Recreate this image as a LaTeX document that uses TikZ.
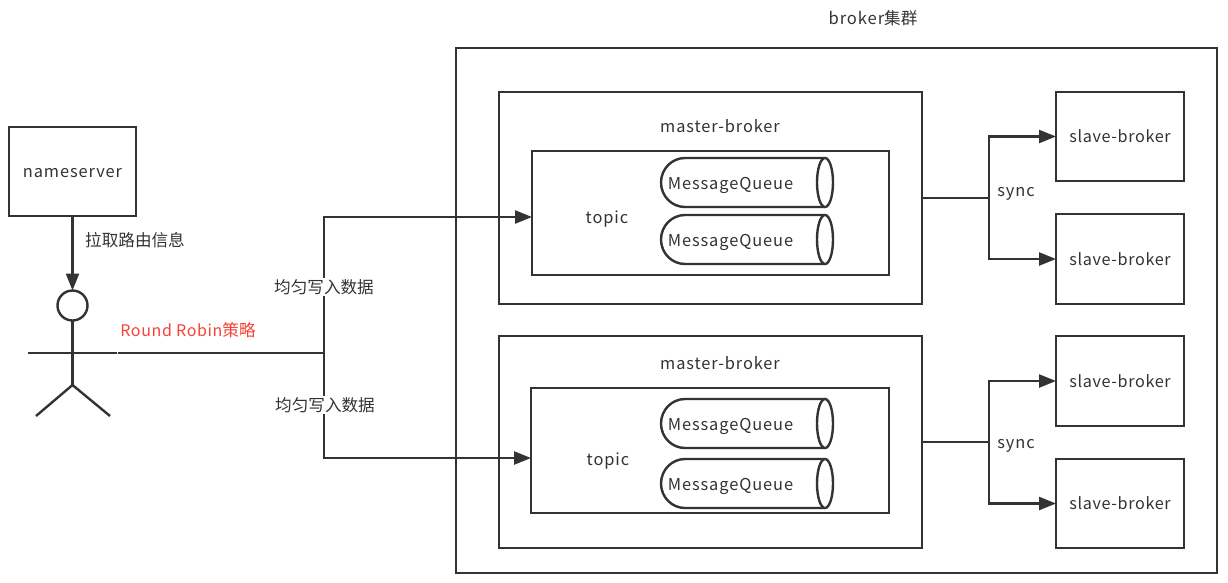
\documentclass[tikz,border=0pt]{standalone}
\usepackage{fontspec}
\setmainfont{Noto Sans CJK SC}
\newfontfamily\spaced[LetterSpace=5.5]{Noto Sans CJK SC}
\newfontfamily\spacedtight[LetterSpace=4]{Noto Sans CJK SC}
\usetikzlibrary{arrows.meta,calc}
\definecolor{ink}{HTML}{333333}
\definecolor{rrred}{HTML}{F44336}
\tikzset{
  x=1pt,y=-1pt,
  every node/.style={font=\fontsize{16.6}{18}\selectfont,text=ink},
  box/.style={draw=ink,line width=2.6pt,inner sep=0pt,outer sep=0pt,fill=white,font=\fontsize{16.4}{18}\spaced},
  lbl/.style={inner sep=1pt,font=\fontsize{16.4}{18}\spaced},
  cjk/.style={inner sep=1pt},
  mask/.style={inner sep=1pt,fill=white},
  link/.style={draw=ink,line width=2.4pt},
  arrowlink/.style={link,-{Triangle[length=17pt,width=13pt]}},
  stick/.style={draw=ink,line width=2.4pt},
  qline/.style={draw=ink,line width=2.4pt,fill=white},
}
\newcommand{\boxat}[6]{\node[box,minimum width=#4 pt-#2 pt,minimum height=#5 pt-#3 pt,anchor=north west] (#1) at (#2,#3) {#6};}
\newcommand{\queue}[2]{%
  \draw[qline] (685,#2-24.5) -- (825,#2-24.5)
     arc[start angle=270,end angle=450,x radius=8,y radius=24.5]
     -- (685,#2+24.5)
     arc[start angle=90,end angle=270,x radius=24,y radius=24.5] -- cycle;
  \draw[qline] (825,#2-24.5) arc[start angle=270,end angle=90,x radius=8,y radius=24.5];
  \node[lbl] (#1) at (730.5,#2+3) {MessageQueue};
}
\newcommand{\slavetext}{\raisebox{-6pt}[0pt][0pt]{\fontsize{16.2}{18}\spacedtight slave-broker}}
\begin{document}
\begin{tikzpicture}
\useasboundingbox (0,0) rectangle (1228,582);
\node[cjk] (title) at (873,18) {{\spaced broker}集群};
\boxat{outer}{456}{48}{1217}{573}{}
\boxat{ns}{9}{127}{136}{216}{\raisebox{-5.5pt}[0pt][0pt]{nameserver}}
\boxat{m1}{499}{92}{922}{304}{}
\boxat{t1}{532}{151}{889}{275}{}
\boxat{m2}{499}{336}{922}{548}{}
\boxat{t2}{531}{388}{889}{513}{}
\boxat{s1}{1056}{92}{1184}{181}{\slavetext}
\boxat{s2}{1056}{214}{1184}{304}{\slavetext}
\boxat{s3}{1056}{336}{1184}{426}{\slavetext}
\boxat{s4}{1056}{459}{1184}{548}{\slavetext}
\node[lbl] (m1l) at (720,126) {master-broker};
\node[lbl] (m2l) at (720,363) {master-broker};
\node[lbl] (t1l) at (607,219) {topic};
\node[lbl] (t2l) at (608,461) {topic};
\queue{q1}{182.5}
\queue{q2}{239.5}
\queue{q3}{423.5}
\queue{q4}{483.5}
% actor
\node[draw=ink,line width=2.4pt,circle,minimum size=30pt,inner sep=0pt,outer sep=0pt] (head) at (72.5,305.5) {};
\coordinate (hip) at (72.5,385);
\coordinate (armL) at (28,353);
\coordinate (armR) at (117,353);
\coordinate (legL) at (36,416);
\coordinate (legR) at (110,416);
\draw[stick] (head.south) -- (hip);
\draw[stick] (armL) -- (armR);
\draw[stick] (legL) -- (hip) -- (legR);
% connectors
\coordinate (start) at (118,353);
\coordinate (junc) at (324,353);
\coordinate (s1j) at (989,198);
\coordinate (s2j) at (989,442);
\draw[arrowlink] (ns.south) -- (head.north);
\draw[link] (start) -- (junc);
\draw[arrowlink] (junc) |- ($(t1.west)+(0,4)$);
\draw[arrowlink] (junc) |- ($(t2.west)+(0,7.5)$);
\draw[arrowlink] (m1.east) -- (s1j) |- (s1.west);
\draw[arrowlink] (s1j) |- (s2.west);
\draw[arrowlink] (m2.east) -- (s2j) |- (s3.west);
\draw[arrowlink] (s2j) |- (s4.west);
% labels
\node[cjk] (pull) at (135,240) {拉取路由信息};
\node[mask] (w1) at (324,287) {均匀写入数据};
\node[mask] (w2) at (325,405) {均匀写入数据};
\node[cjk,text=rrred] (rr) at (188,330) {{\fontsize{16}{18}\spacedtight Round Robin}策略};
\node[mask,font=\fontsize{16.4}{18}\spaced] (sy1) at (1016,194) {sync};
\node[mask,font=\fontsize{16.4}{18}\spaced] (sy2) at (1016,446) {sync};
\end{tikzpicture}
\end{document}
